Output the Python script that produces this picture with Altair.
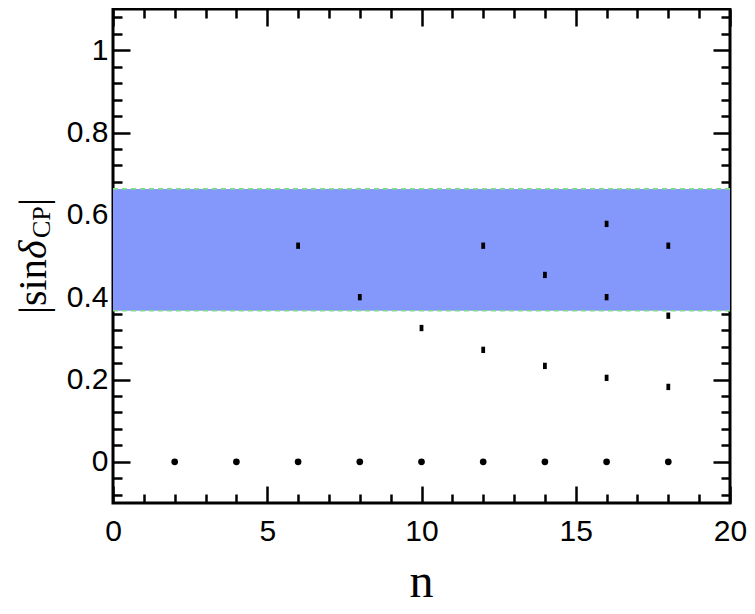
import altair as alt
import pandas as pd

# ---- data ----
n_zero = [2, 4, 6, 8, 10, 12, 14, 16, 18]
v_zero = [0, 0, 0, 0, 0, 0, 0, 0, 0]
n_sq = [6, 8, 10, 12, 12, 14, 14, 16, 16, 16, 18, 18, 18]
v_sq = [0.525, 0.40, 0.325, 0.525, 0.272, 0.454, 0.233, 0.578, 0.40, 0.204, 0.525, 0.355, 0.182]
band_lo = [0.367]
band_hi = [0.663]

x_major = [0, 5, 10, 15, 20]
x_minor = [1, 2, 3, 4, 6, 7, 8, 9, 11, 12, 13, 14, 16, 17, 18, 19]
y_major = [0, 0.2, 0.4, 0.6, 0.8, 1.0]
y_minor = [-0.08, -0.04, 0.04, 0.08, 0.12, 0.16, 0.24, 0.28, 0.32, 0.36, 0.44, 0.48,
           0.52, 0.56, 0.64, 0.68, 0.72, 0.76, 0.84, 0.88, 0.92, 0.96, 1.04, 1.08]

W, H = 617, 494

zero_df = pd.DataFrame({"n": n_zero, "v": v_zero})
sq_df = pd.DataFrame({"n": n_sq, "v": v_sq})
band_df = pd.DataFrame({"lo": band_lo, "hi": band_hi})


def xs():
    return alt.Scale(domain=[0, 20], nice=False, zero=False)


def ys():
    return alt.Scale(domain=[-0.1, 1.1], nice=False, zero=False)


def ax(orient, values, size, labels, pad=6):
    kw = dict(orient=orient, values=values, tickSize=size, offset=-size, domain=False,
              grid=False, labels=labels, title=None, ticks=True, tickColor="black",
              tickWidth=2.5)
    if labels:
        kw.update(labelFont="Liberation Sans", labelFontSize=30, labelColor="black",
                  labelPadding=pad, labelFlush=False, labelOverlap=False, format="~g")
    return alt.Axis(**kw)


band = alt.Chart(band_df).mark_rect(color="#8398fa", opacity=1).encode(
    y=alt.Y("lo:Q", scale=ys(), axis=None),
    y2="hi:Q",
    x=alt.value(0),
    x2=alt.value(W),
)
edge_lo = alt.Chart(band_df).mark_rule(color="#7fdc8a", strokeDash=[5, 4], strokeWidth=1.6).encode(
    y=alt.Y("lo:Q", scale=ys(), axis=None), x=alt.value(0), x2=alt.value(W))
edge_hi = alt.Chart(band_df).mark_rule(color="#7fdc8a", strokeDash=[5, 4], strokeWidth=1.6).encode(
    y=alt.Y("hi:Q", scale=ys(), axis=None), x=alt.value(0), x2=alt.value(W))

dots = alt.Chart(zero_df).mark_circle(color="black", opacity=1, size=45).encode(
    x=alt.X("n:Q", scale=xs(), axis=ax("bottom", x_major, 17, True, 13)),
    y=alt.Y("v:Q", scale=ys(), axis=ax("left", y_major, 17, True, 5)),
)
squares = alt.Chart(sq_df).mark_point(
    shape="M-0.6,-1L0.6,-1L0.6,1L-0.6,1Z", filled=True, color="black", opacity=1, size=40
).encode(
    x=alt.X("n:Q", scale=xs(), axis=ax("bottom", x_minor, 9, False)),
    y=alt.Y("v:Q", scale=ys(), axis=ax("left", y_minor, 9, False)),
)
hid1 = alt.Chart(sq_df).mark_point(opacity=0).encode(
    x=alt.X("n:Q", scale=xs(), axis=ax("top", x_major, 17, False)),
    y=alt.Y("v:Q", scale=ys(), axis=ax("right", y_major, 17, False)),
)
hid2 = alt.Chart(sq_df).mark_point(opacity=0).encode(
    x=alt.X("n:Q", scale=xs(), axis=ax("top", x_minor, 9, False)),
    y=alt.Y("v:Q", scale=ys(), axis=ax("right", y_minor, 9, False)),
)

one = alt.Data(values=[{}])
serif = "Liberation Serif"
t1 = alt.Chart(one).mark_text(text="|sin", font=serif, fontSize=40, angle=270, align="left",
                              baseline="alphabetic", color="black").encode(x=alt.value(-67), y=alt.value(305))
t2 = alt.Chart(one).mark_text(text="δ", font=serif, fontSize=40, fontStyle="italic", angle=270,
                              align="left", baseline="alphabetic", color="black").encode(x=alt.value(-67), y=alt.value(250))
t3 = alt.Chart(one).mark_text(text="CP", font=serif, fontSize=26, angle=270, align="left",
                              baseline="alphabetic", color="black").encode(x=alt.value(-63), y=alt.value(229))
t4 = alt.Chart(one).mark_text(text="|", font=serif, fontSize=40, angle=270, align="left",
                              baseline="alphabetic", color="black").encode(x=alt.value(-67), y=alt.value(197))
tx = alt.Chart(one).mark_text(text="n", font=serif, fontSize=48, align="center",
                              baseline="alphabetic", color="black").encode(x=alt.value(W / 2), y=alt.value(588))

chart = alt.layer(band, edge_lo, edge_hi, dots, squares, hid1, hid2, t1, t2, t3, t4, tx).resolve_scale(
    x="independent", y="independent"
).properties(
    width=W, height=H,
    autosize=alt.AutoSizeParams(type="none"),
    padding={"left": 105, "top": 1, "right": 17, "bottom": 97},
).configure_view(stroke="black", strokeWidth=3)

chart.save("out.html", embed_options={"renderer": "svg", "actions": False})
